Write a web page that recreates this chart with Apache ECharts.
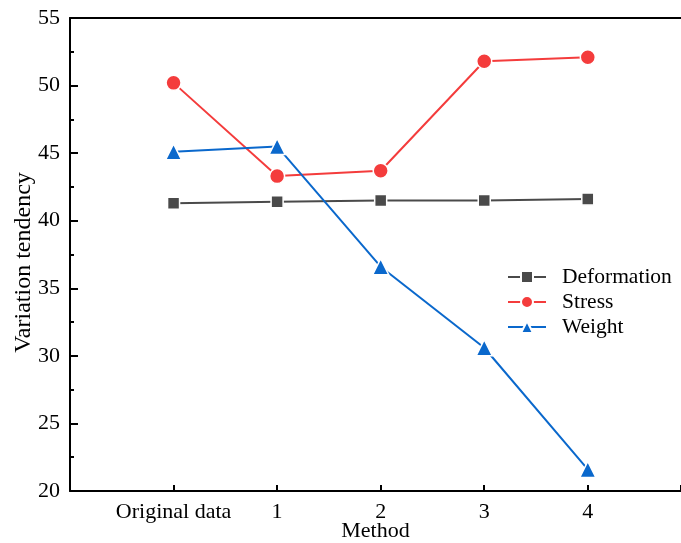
<!DOCTYPE html>
<html>
<head>
<meta charset="utf-8">
<script src="https://cdn.jsdelivr.net/npm/echarts@6/dist/echarts.min.js"></script>
<style>html,body{margin:0;padding:0;background:#fff;overflow:hidden}#c{width:681px;height:543px}</style>
</head>
<body>
<div id="c"></div>
<script>
var categories = ['Original data', '1', '2', '3', '4'];
var deformation = [41.3, 41.4, 41.5, 41.5, 41.6];
var stress = [50.2, 43.3, 43.7, 51.8, 52.1];
var weight = [45.1, 45.5, 36.6, 30.6, 21.6];
var yTicks = [20, 25, 30, 35, 40, 45, 50, 55];

function pairs(arr) { return arr.map(function (v, i) { return [i, v]; }); }

var FONT = '"Liberation Serif", "Times New Roman", serif';
var chart = echarts.init(document.getElementById('c'), null, { renderer: 'canvas' });
chart.setOption({
  animation: false,
  backgroundColor: '#fff',
  grid: { left: 70, top: 18, width: 611, height: 473, containLabel: false, outerBoundsMode: 'none' },
  legend: {
    orient: 'vertical', left: 502, top: 261, itemWidth: 38, itemHeight: 15, itemGap: 3,
    textStyle: { fontFamily: FONT, fontSize: 21.5, color: '#000', padding: [0, 0, 0, 11] },
    data: ['Deformation', 'Stress', 'Weight']
  },
  xAxis: [{
    type: 'value', min: -1, max: 4.9, interval: 1,
    name: 'Method', nameLocation: 'middle', nameGap: 29, nameMoveOverlap: false,
    nameTextStyle: { fontFamily: FONT, fontSize: 22, color: '#000' },
    axisLine: { onZero: false, lineStyle: { color: '#000', width: 2 } },
    axisTick: { inside: true, length: 6, lineStyle: { color: '#000', width: 2 } },
    splitLine: { show: false },
    axisLabel: {
      fontFamily: FONT, fontSize: 22, color: '#000', margin: 10,
      formatter: function (v) { return categories[v] !== undefined ? categories[v] : ''; }
    }
  }, {
    type: 'value', min: -1, max: 4.9, position: 'top',
    axisLine: { show: true, onZero: false, lineStyle: { color: '#000', width: 2 } },
    axisTick: { show: false }, axisLabel: { show: false }, splitLine: { show: false }
  }],
  yAxis: {
    type: 'value', min: yTicks[0], max: yTicks[yTicks.length - 1], interval: 5,
    name: 'Variation tendency', nameLocation: 'middle', nameGap: 34, nameMoveOverlap: false,
    nameTextStyle: { fontFamily: FONT, fontSize: 24, color: '#000', padding: [0, 16, 0, 0] },
    axisLine: { show: true, onZero: false, lineStyle: { color: '#000', width: 2 } },
    axisTick: { inside: true, length: 8, lineStyle: { color: '#000', width: 2 } },
    minorTick: { show: true, splitNumber: 2, length: 4, lineStyle: { color: '#000', width: 2 } },
    splitLine: { show: false },
    axisLabel: { fontFamily: FONT, fontSize: 22, color: '#000', margin: 10 }
  },
  series: [{
    name: 'Deformation', type: 'line', data: pairs(deformation),
    symbol: 'rect', symbolSize: 12,
    lineStyle: { color: '#4a4a4a', width: 2 },
    itemStyle: { color: '#4a4a4a', borderColor: '#fff', borderWidth: 1.5 }
  }, {
    name: 'Stress', type: 'line', data: pairs(stress),
    symbol: 'circle', symbolSize: 15,
    lineStyle: { color: '#f43c3c', width: 2 },
    itemStyle: { color: '#f43c3c', borderColor: '#fff', borderWidth: 1.5 }
  }, {
    name: 'Weight', type: 'line', data: pairs(weight),
    symbol: 'triangle', symbolSize: 16,
    lineStyle: { color: '#0a68cc', width: 2 },
    itemStyle: { color: '#0a68cc', borderColor: '#fff', borderWidth: 1.5 }
  }]
});
</script>
</body>
</html>
